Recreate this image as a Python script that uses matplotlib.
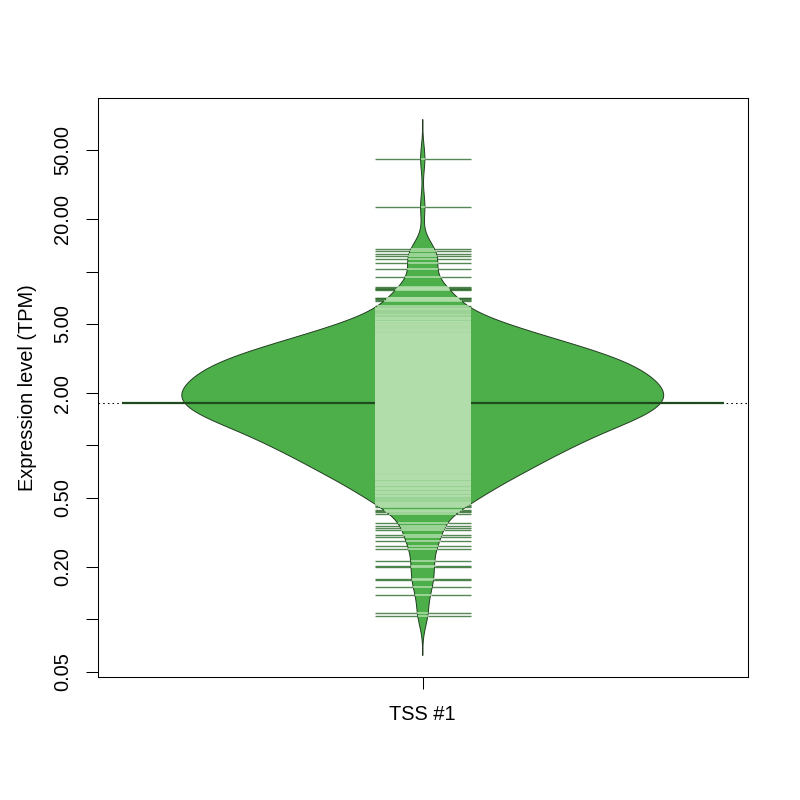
import numpy as np
import matplotlib
matplotlib.use("Agg")
import matplotlib.pyplot as plt
from matplotlib.collections import LineCollection

plt.rcParams['font.family'] = ['Liberation Sans', 'DejaVu Sans']

group_label = "TSS #1"
y_label = "Expression level (TPM)"
y_ticks = [0.05, 0.1, 0.2, 0.5, 1, 2, 5, 10, 20, 50]
y_tick_labels = ["0.05", "", "0.20", "0.50", "", "2.00", "5.00", "", "20.00", "50.00"]

# distinct TPM values in the dense body and how many observations share each
body_tpm = [
    0.50, 0.51, 0.52, 0.53,
    0.54, 0.55, 0.56, 0.57, 0.58, 0.59,
    0.60, 0.61, 0.62, 0.63, 0.64, 0.65, 0.66, 0.67, 0.68, 0.69,
    0.70, 0.71, 0.72, 0.73, 0.74, 0.75, 0.76, 0.77, 0.78, 0.79,
    0.80, 0.81, 0.82, 0.83, 0.84, 0.85, 0.86, 0.87, 0.88, 0.89,
    0.90, 0.91, 0.92, 0.93, 0.94, 0.95, 0.96, 0.97, 0.98, 0.99,
    1.00, 1.02, 1.04, 1.06, 1.08, 1.10, 1.12, 1.14, 1.16, 1.18,
    1.20, 1.22, 1.24, 1.26, 1.28, 1.30, 1.32, 1.34, 1.36, 1.38,
    1.40, 1.42, 1.44, 1.46, 1.48, 1.50, 1.52, 1.54, 1.56, 1.58,
    1.60, 1.62, 1.64, 1.66, 1.68, 1.70, 1.72, 1.74, 1.76, 1.78,
    1.80, 1.82, 1.84, 1.86, 1.88, 1.90, 1.92, 1.94, 1.96, 1.98,
    2.00, 2.05, 2.10, 2.15, 2.20, 2.25, 2.30, 2.35, 2.40, 2.45,
    2.50, 2.55, 2.60, 2.65, 2.70, 2.75, 2.80, 2.85, 2.90, 2.95,
    3.00, 3.05, 3.10, 3.15, 3.20, 3.25, 3.30, 3.35, 3.40, 3.45,
    3.50, 3.55, 3.60, 3.65, 3.70, 3.75, 3.80, 3.85, 3.90, 3.95,
    4.0, 4.1, 4.2, 4.3, 4.4, 4.5, 4.6, 4.7, 4.8, 4.9,
    5.0, 5.1, 5.2, 5.3, 5.4, 5.5, 5.6, 5.7,
]
body_counts = [
    1, 1, 1, 1,
    1, 1, 2, 1, 1, 2,
    1, 1, 2, 1, 2, 1, 2, 1, 2, 2,
    2, 1, 2, 1, 2, 2, 1, 2, 1, 2,
    2, 1, 2, 2, 1, 2, 1, 2, 2, 1,
    2, 2, 1, 2, 1, 2, 2, 1, 2, 2,
    3, 3, 4, 3, 3, 3, 4, 3, 3, 3,
    3, 4, 3, 3, 4, 3, 3, 4, 3, 3,
    4, 3, 3, 4, 3, 4, 3, 3, 4, 3,
    3, 3, 4, 3, 3, 3, 3, 3, 3, 3,
    3, 3, 3, 3, 3, 2, 3, 3, 3, 2,
    7, 6, 6, 6, 6, 6, 5, 6, 5, 5,
    5, 5, 5, 4, 5, 4, 5, 4, 4, 4,
    4, 4, 3, 4, 3, 3, 3, 3, 3, 3,
    3, 3, 2, 3, 2, 2, 2, 2, 2, 2,
    4, 3, 3, 3, 3, 2, 3, 2, 2, 2,
    2, 2, 1, 2, 1, 1, 1, 1,
]
# single observations in the lower and upper tails
low_tail_tpm = [0.104, 0.109, 0.139, 0.153, 0.168, 0.171, 0.200, 0.204, 0.218,
                0.254, 0.263, 0.281, 0.296, 0.307, 0.328,
                0.336, 0.343, 0.356, 0.401, 0.415, 0.419, 0.425, 0.440, 0.447, 0.455,
                0.462, 0.468, 0.476, 0.485, 0.515, 0.534]
high_tail_tpm = [5.83, 6.04, 6.10, 6.20, 6.31, 6.74, 6.89, 6.95, 7.00, 7.05,
                 7.80, 7.90, 7.97, 8.00, 8.13, 9.26, 10.35, 11.20, 11.86,
                 12.23, 12.67, 13.06, 13.54, 23.6, 44.6]

obs = np.concatenate([np.repeat(body_tpm, body_counts), low_tail_tpm, high_tail_tpm])
u = np.log10(obs)

# bean density (gaussian kernel on log scale, like beanplot)
bw = 0.075
cut = 3
lo, hi = u.min() - cut * bw, u.max() + cut * bw
grid = np.linspace(lo, hi, 1024)
dens = np.exp(-0.5 * ((grid[:, None] - u[None, :]) / bw) ** 2).sum(axis=1)
maxwidth = 0.8
half = maxwidth / 2 * dens / dens.max()
center = 1.0

fill_col = '#4DAF4A'
border_col = '#223d21'
inner_col = '#B2DEAC'
outer_col = '#2B6A29'
avg_col = '#1F4A1D'

FS = 14.4

fig = plt.figure(figsize=(8, 8), dpi=100)
ax = fig.add_axes([97.5 / 800, 1 - 677 / 800, 650.5 / 800, 579 / 800])
ax.set_yscale('log')

pad = 0.04 * (hi - lo)
ax.set_ylim(10 ** (lo - pad), 10 ** (hi + pad))
ax.set_xlim(0.5 - 0.04, 1.5 + 0.04)

mean_u = u.mean()
ax.axhline(10 ** mean_u, color='black', lw=0.75, linestyle=(0, (1.5, 3)), zorder=1)

ys = 10 ** grid
px = np.concatenate([center - half, (center + half)[::-1]])
py = np.concatenate([ys, ys[::-1]])
ax.fill(px, py, facecolor=fill_col, edgecolor=border_col, lw=0.7, zorder=2)

ax.plot([center - 0.5, center + 0.5], [10 ** mean_u] * 2, color=avg_col, lw=1.6,
        solid_capstyle='butt', zorder=3)

L = 0.08
inner_segs, outer_segs = [], []
for val in obs:
    w = np.interp(np.log10(val), grid, half)
    if w >= L:
        inner_segs.append([(center - L, val), (center + L, val)])
    else:
        inner_segs.append([(center - w, val), (center + w, val)])
        outer_segs.append([(center - L, val), (center - w, val)])
        outer_segs.append([(center + w, val), (center + L, val)])
ax.add_collection(LineCollection(outer_segs, colors=outer_col, linewidths=1.0, alpha=0.8,
                                 capstyle='butt', zorder=4))
ax.add_collection(LineCollection(inner_segs, colors=inner_col, linewidths=1.1,
                                 capstyle='butt', zorder=5))

ax.set_yticks(y_ticks)
ax.set_yticklabels(y_tick_labels, rotation=90, va='center')
ax.yaxis.set_minor_locator(matplotlib.ticker.NullLocator())
ax.set_xticks([center])
ax.set_xticklabels([group_label])
ax.tick_params(axis='both', length=8.6, width=0.75, labelsize=FS, direction='out')
ax.tick_params(axis='y', pad=9.8)
ax.tick_params(axis='x', pad=11.5)
for s in ax.spines.values():
    s.set_linewidth(0.75)

ax.set_ylabel(y_label, fontsize=FS)
ax.yaxis.label.set_va('center')
ax.yaxis.set_label_coords((27.5 - 97.5) / 650.5, 0.5)

fig.savefig('out.png', dpi=100)
